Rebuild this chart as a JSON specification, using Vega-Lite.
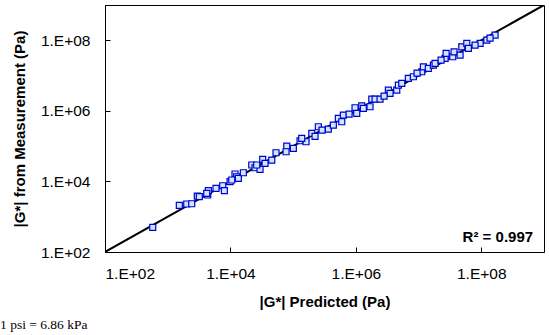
{
  "$schema": "https://vega.github.io/schema/vega-lite/v6.json",
  "width": 439,
  "height": 247,
  "autosize": {"type": "none"},
  "padding": {"left": 105, "top": 5, "right": 5, "bottom": 83},
  "background": "white",
  "config": {
    "view": {"stroke": "black", "strokeWidth": 1},
    "font": "Liberation Sans",
    "axis": {
      "grid": false,
      "domainColor": "black",
      "domainWidth": 1,
      "tickColor": "black",
      "tickSize": -5,
      "labelFont": "Liberation Sans",
      "labelFontSize": 15.5,
      "labelColor": "black",
      "titleFont": "Liberation Sans",
      "titleFontSize": 15,
      "titleFontWeight": "bold",
      "titleColor": "black"
    }
  },
  "title": {
    "text": "1 psi = 6.86 kPa",
    "orient": "bottom",
    "anchor": "start",
    "frame": "group",
    "dx": -105,
    "offset": 9,
    "font": "Liberation Serif",
    "fontSize": 13.5,
    "fontWeight": "normal",
    "color": "black"
  },
  "datasets": {
    "pts": [
      {"pred": 577, "meas": 501},
      {"pred": 1531, "meas": 2104},
      {"pred": 2009, "meas": 2291},
      {"pred": 2415, "meas": 2333},
      {"pred": 2965, "meas": 3855},
      {"pred": 3192, "meas": 3690},
      {"pred": 4345, "meas": 4121},
      {"pred": 4446, "meas": 5458},
      {"pred": 5888, "meas": 6383},
      {"pred": 7534, "meas": 7551},
      {"pred": 8000, "meas": 5458},
      {"pred": 9863, "meas": 9817},
      {"pred": 11830, "meas": 16220},
      {"pred": 12590, "meas": 13580},
      {"pred": 13370, "meas": 12250},
      {"pred": 16070, "meas": 17620},
      {"pred": 21880, "meas": 29170},
      {"pred": 24660, "meas": 24430},
      {"pred": 29650, "meas": 22030},
      {"pred": 32730, "meas": 42270},
      {"pred": 35650, "meas": 32580},
      {"pred": 45600, "meas": 40360},
      {"pred": 53330, "meas": 65010},
      {"pred": 79070, "meas": 100700},
      {"pred": 77090, "meas": 69340},
      {"pred": 100700, "meas": 86700},
      {"pred": 128800, "meas": 142200},
      {"pred": 160700, "meas": 133400},
      {"pred": 137100, "meas": 166300},
      {"pred": 198200, "meas": 230700},
      {"pred": 223400, "meas": 188400},
      {"pred": 252300, "meas": 354800},
      {"pred": 363900, "meas": 304800},
      {"pred": 437500, "meas": 396300},
      {"pred": 526000, "meas": 613800},
      {"pred": 595700, "meas": 490900},
      {"pred": 632400, "meas": 760300},
      {"pred": 970500, "meas": 1225000},
      {"pred": 1033000, "meas": 849200},
      {"pred": 1242000, "meas": 1393000},
      {"pred": 1318000, "meas": 1178000},
      {"pred": 1683000, "meas": 1306000},
      {"pred": 1795000, "meas": 2158000},
      {"pred": 2023000, "meas": 2158000},
      {"pred": 2432000, "meas": 2158000},
      {"pred": 3296000, "meas": 3882000},
      {"pred": 3508000, "meas": 3133000},
      {"pred": 4487000, "meas": 3882000},
      {"pred": 4764000, "meas": 5383000},
      {"pred": 5395000, "meas": 6012000},
      {"pred": 6871000, "meas": 8337000},
      {"pred": 8260000, "meas": 9247000},
      {"pred": 11250000, "meas": 12820000},
      {"pred": 11940000, "meas": 17740000},
      {"pred": 14320000, "meas": 16000000},
      {"pred": 17220000, "meas": 19820000},
      {"pred": 18320000, "meas": 22180000},
      {"pred": 26490000, "meas": 30690000},
      {"pred": 27480000, "meas": 42560000},
      {"pred": 35080000, "meas": 34120000},
      {"pred": 36810000, "meas": 47210000},
      {"pred": 45920000, "meas": 38110000},
      {"pred": 48870000, "meas": 65460000},
      {"pred": 58750000, "meas": 81660000},
      {"pred": 62230000, "meas": 59020000},
      {"pred": 95720000, "meas": 81660000},
      {"pred": 122500000, "meas": 101400000},
      {"pred": 166000000, "meas": 140300000},
      {"pred": 4188, "meas": 4603},
      {"pred": 10500, "meas": 10960},
      {"pred": 26240, "meas": 29170},
      {"pred": 289100, "meas": 285800},
      {"pred": 779800, "meas": 811000},
      {"pred": 2818000, "meas": 2624000},
      {"pred": 9462000, "meas": 11780000},
      {"pred": 22860000, "meas": 27480000},
      {"pred": 79620000, "meas": 73110000},
      {"pred": 138000000, "meas": 115300000}
    ],
    "line": [
      {"pred": 100, "meas": 100},
      {"pred": 1000000000, "meas": 1000000000}
    ],
    "note": [
      {"pred": 670000000, "meas": 192, "label": "R² = 0.997"}
    ]
  },
  "layer": [
    {
      "data": {"name": "line"},
      "mark": {"type": "line", "color": "black", "strokeWidth": 2, "clip": true},
      "encoding": {
        "x": {
          "field": "pred", "type": "quantitative",
          "scale": {"type": "log", "domain": [100, 1000000000], "nice": false},
          "axis": {
            "title": "|G*| Predicted (Pa)",
            "values": [100, 10000, 1000000, 100000000],
            "labelExpr": "'1.E+' + (round(log(datum.value)/LN10) < 10 ? '0' : '') + round(log(datum.value)/LN10)",
            "labelPadding": 19,
            "titleY": 42
          }
        },
        "y": {
          "field": "meas", "type": "quantitative",
          "scale": {"type": "log", "domain": [100, 1000000000], "nice": false},
          "axis": {
            "title": "|G*| from Measurement (Pa)",
            "values": [100, 10000, 1000000, 100000000],
            "labelExpr": "'1.E+' + (round(log(datum.value)/LN10) < 10 ? '0' : '') + round(log(datum.value)/LN10)",
            "labelPadding": 20,
            "titleX": -78
          }
        }
      }
    },
    {
      "data": {"name": "pts"},
      "mark": {"type": "point", "shape": "square", "size": 36, "filled": false, "fill": "#cce8ff", "fillOpacity": 1, "stroke": "#0000cc", "strokeWidth": 1.2, "opacity": 1},
      "encoding": {
        "x": {"field": "pred", "type": "quantitative"},
        "y": {"field": "meas", "type": "quantitative"}
      }
    },
    {
      "data": {"name": "note"},
      "mark": {"type": "text", "align": "right", "baseline": "alphabetic", "font": "Liberation Sans", "fontSize": 15, "fontWeight": "bold", "color": "black"},
      "encoding": {
        "x": {"field": "pred", "type": "quantitative"},
        "y": {"field": "meas", "type": "quantitative"},
        "text": {"field": "label"}
      }
    }
  ]
}
